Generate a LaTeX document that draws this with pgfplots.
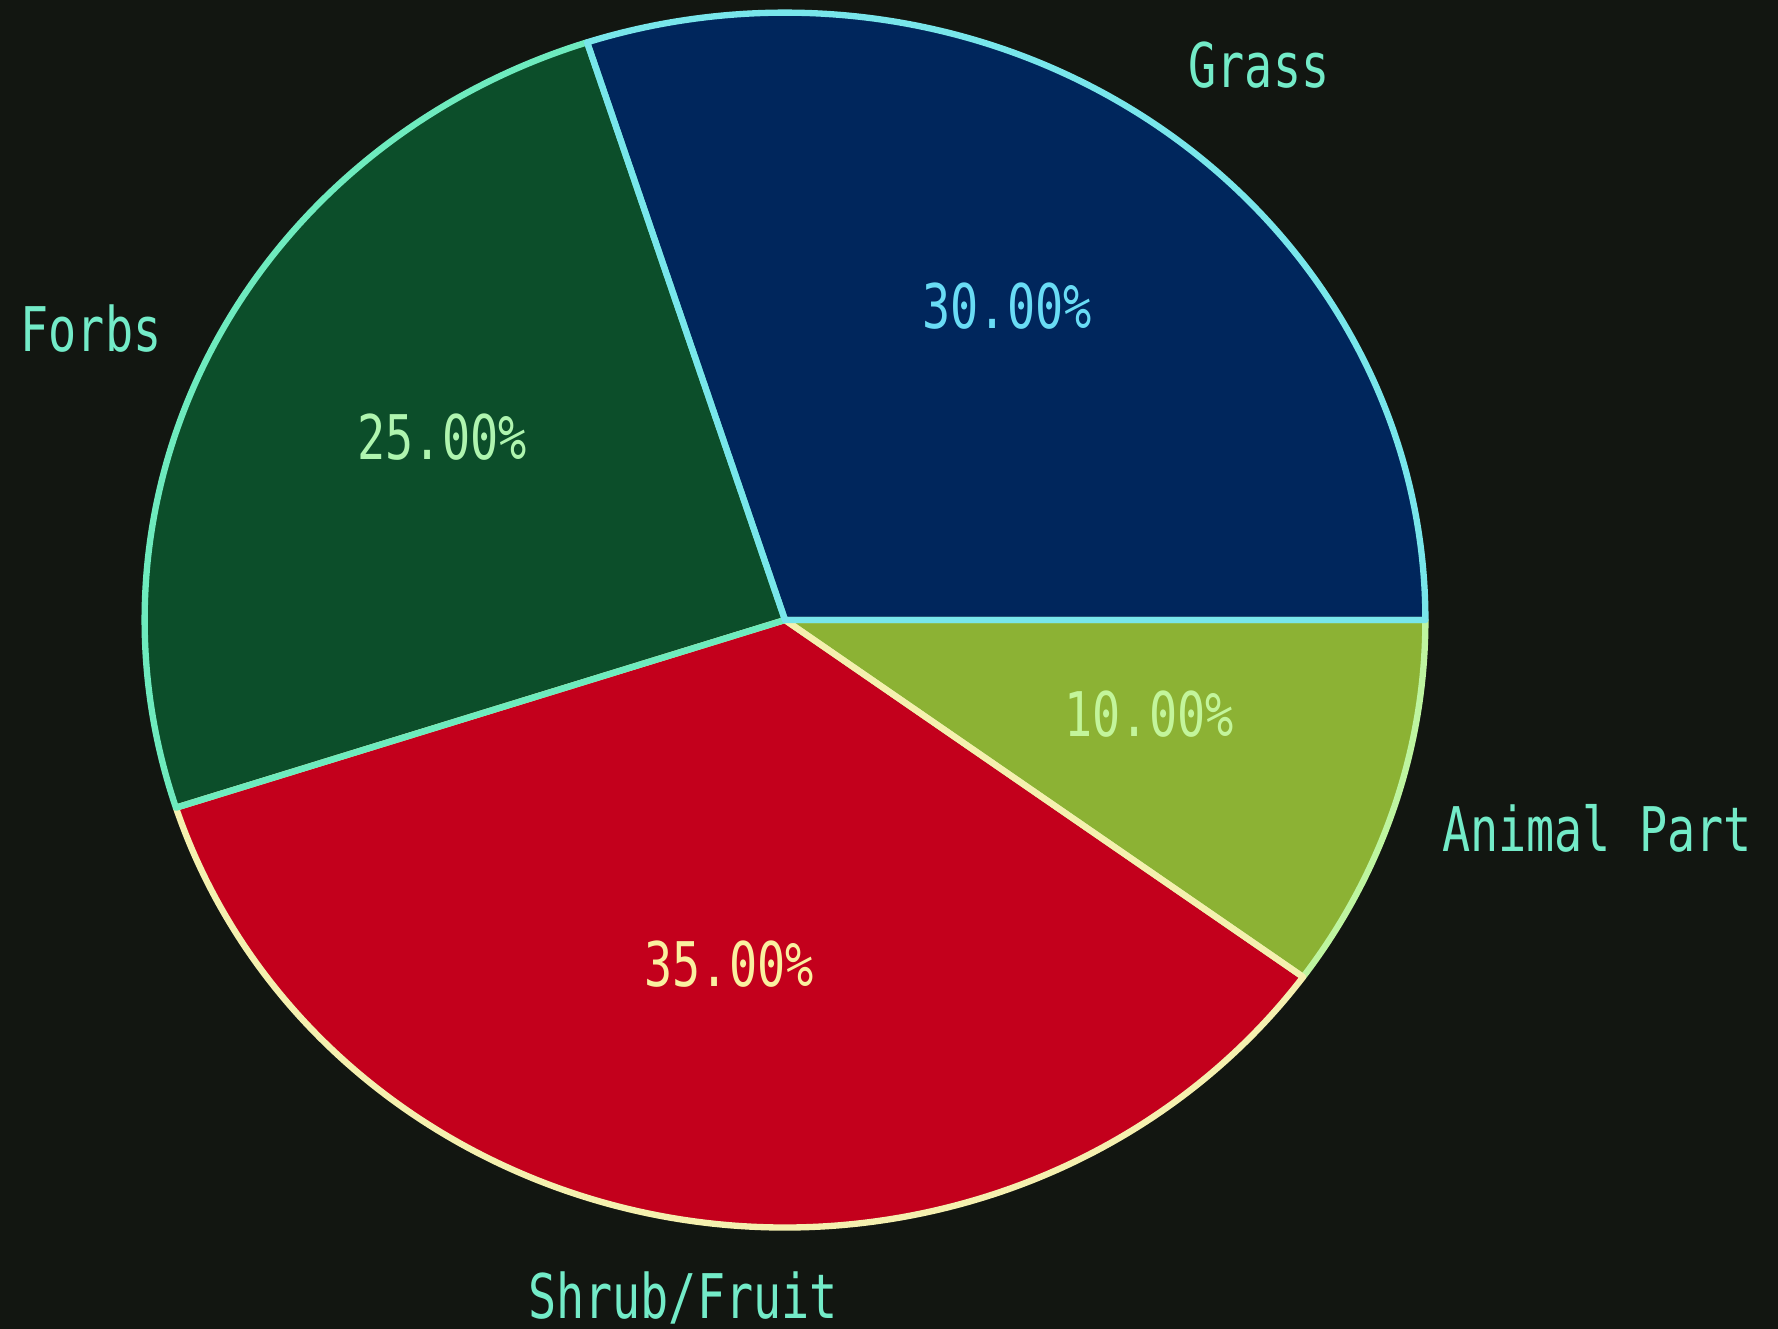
\documentclass[border=0pt]{standalone}
\usepackage{pgfplots}
\pgfplotsset{compat=1.18}
\usepackage{pgfplotstable}
\usepackage{fontspec}
\setmainfont{DejaVu Sans Mono}
\definecolor{bgc}{RGB}{18,22,17}
\definecolor{grassc}{RGB}{0,38,92}
\definecolor{forbsc}{RGB}{12,78,42}
\definecolor{shrubc}{RGB}{195,0,28}
\definecolor{animalc}{RGB}{140,178,52}
\definecolor{labc}{RGB}{115,235,200}
\definecolor{pgrass}{RGB}{105,220,245}
\definecolor{pforbs}{RGB}{175,245,175}
\definecolor{pshrub}{RGB}{250,240,160}
\definecolor{panimal}{RGB}{195,245,155}
\definecolor{lgrass}{RGB}{120,230,235}
\definecolor{lforbs}{RGB}{110,235,190}
\definecolor{lshrub}{RGB}{245,240,175}
\definecolor{lanimal}{RGB}{190,245,160}

\pgfplotstableread{
label value
Grass 30
Forbs 25
Shrub/Fruit 35
Animal_Part 10
}\piedata

\newcommand{\lab}[1]{\fontsize{17.5}{20}\selectfont\scalebox{0.76}[1]{#1}}
\def\rx{6.40cm}
\def\ry{6.07cm}
\newcommand{\piewedge}[2]{(axis cs:785,709) -- ++(#1:\rx\space and \ry) arc[start angle=#1, end angle=#2, x radius=\rx, y radius=\ry] -- cycle}
\newcommand{\pct}[1]{\pgfmathprintnumber[fixed,fixed zerofill,precision=2,assume math mode=true]{#1}\%}

\begin{document}%
\begin{tikzpicture}
\pgfplotstablegetelem{0}{value}\of\piedata \let\vA\pgfplotsretval
\pgfplotstablegetelem{1}{value}\of\piedata \let\vB\pgfplotsretval
\pgfplotstablegetelem{2}{value}\of\piedata \let\vC\pgfplotsretval
\pgfplotstablegetelem{3}{value}\of\piedata \let\vD\pgfplotsretval
\pgfmathsetmacro\aA{0}
\pgfmathsetmacro\aB{\aA+3.6*\vA}
\pgfmathsetmacro\aC{\aB+3.6*\vB}
\pgfmathsetmacro\aD{\aC+3.6*\vC}
\pgfmathsetmacro\aE{\aD+3.6*\vD}
\begin{axis}[
  x=0.01cm, y=0.01cm,
  xmin=0, xmax=1778, ymin=0, ymax=1329,
  scale only axis, hide axis, clip=false,
]
\fill[bgc] (axis cs:0,0) rectangle (axis cs:1778,1329);
\coordinate (bl) at (axis cs:0,0);
\coordinate (tr) at (axis cs:1778,1329);
\fill[grassc] \piewedge{\aA}{\aB};
\fill[forbsc] \piewedge{\aB}{\aC};
\fill[shrubc] \piewedge{\aC}{\aD};
\fill[animalc] \piewedge{\aD}{\aE};
\draw[lanimal, line width=1.8pt, line join=round] \piewedge{\aD}{\aE};
\draw[lshrub, line width=1.8pt, line join=round] \piewedge{\aC}{\aD};
\draw[lforbs, line width=1.8pt, line join=round] \piewedge{\aB}{\aC};
\draw[lgrass, line width=1.8pt, line join=round] \piewedge{\aA}{\aB};
\node[text=labc] at (axis cs:1259,1264) {\lab{Grass}};
\node[text=labc] at (axis cs:91,1000) {\lab{Forbs}};
\node[text=labc] at (axis cs:1597,501) {\lab{Animal Part}};
\node[text=labc] at (axis cs:683,31) {\lab{Shrub/Fruit}};
\node[text=pgrass] at (axis cs:1007,1023) {\lab{\pct{\vA}}};
\node[text=pforbs] at (axis cs:442,892) {\lab{\pct{\vB}}};
\node[text=pshrub] at (axis cs:729,365) {\lab{\pct{\vC}}};
\node[text=panimal] at (axis cs:1149,615) {\lab{\pct{\vD}}};
\end{axis}
\pgfresetboundingbox
\useasboundingbox (bl) rectangle (tr);
\end{tikzpicture}%
\end{document}
